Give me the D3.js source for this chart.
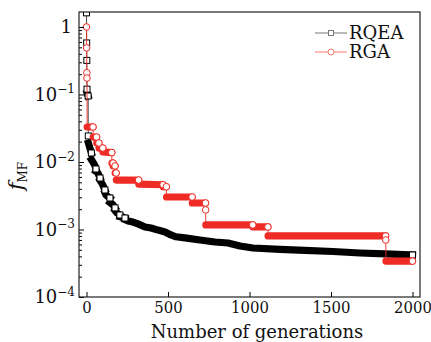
<!DOCTYPE html>
<html>
<head>
<meta charset="utf-8">
<script src="https://cdn.jsdelivr.net/npm/d3@7"></script>
<style>
  body { margin: 0; background: #fff; }
  svg { display: block; font-family: "DejaVu Serif", serif; }
  .cond { font-family: "DejaVu Serif Condensed", "DejaVu Serif", serif; font-stretch: condensed; }
</style>
</head>
<body>
<svg id="chart"></svg>
<script>
//// data (generation, best fitness)
const rqeaGen = [0, 1, 2, 3, 4, 10, 11, 12, 30, 31, 50, 58, 59, 70, 83, 84, 100, 113, 114, 120, 144, 145, 163, 175, 176, 187, 205, 206, 236, 237, 255, 285, 316, 359, 396, 439, 482, 518, 549, 604, 696, 788, 868, 942, 1021, 1187, 1340, 1512, 1678, 1831, 2000];
const rqeaVal = [1.62, 0.58, 0.32, 0.12, 0.105, 0.095, 0.0243, 0.019, 0.0136, 0.0107, 0.00904, 0.00788, 0.0072, 0.00687, 0.00579, 0.0053, 0.00456, 0.00385, 0.0035, 0.00324, 0.00293, 0.0025, 0.00231, 0.00209, 0.0019, 0.00176, 0.00164, 0.00155, 0.00148, 0.0014, 0.00134, 0.00129, 0.00121, 0.00109, 0.00105, 0.00098, 0.00092, 0.00083, 0.00078, 0.00075, 0.000699, 0.000653, 0.000631, 0.00057, 0.000532, 0.000506, 0.000489, 0.000472, 0.000449, 0.000434, 0.000419];

const rgaGen = [0, 1, 2, 3, 4, 40, 41, 62, 63, 76, 77, 100, 101, 155, 156, 163, 164, 175, 176, 182, 183, 320, 321, 470, 471, 490, 491, 648, 649, 730, 731, 732, 1020, 1021, 1113, 1114, 1835, 1836, 1837, 2000];
const rgaVal = [1.0, 0.49, 0.21, 0.175, 0.033, 0.033, 0.0234, 0.0234, 0.0191, 0.0191, 0.0161, 0.0161, 0.0141, 0.0138, 0.00966, 0.00966, 0.00873, 0.00873, 0.00687, 0.00687, 0.0054, 0.0054, 0.0047, 0.0046, 0.0043, 0.0043, 0.00303, 0.00303, 0.00247, 0.00247, 0.00195, 0.00117, 0.00117, 0.00109, 0.00109, 0.000802, 0.000802, 0.000699, 0.00034, 0.00034];

const seriesNames = ["RQEA", "RGA"];
const xTicks = [0, 500, 1000, 1500, 2000];
const yExponents = [-4, -3, -2, -1, 0];

const width = 431;
const height = 342;
const plotLeft = 79, plotRight = 420, plotTop = 12, plotBottom = 297;
const red = "#ee2b25";

const svg = d3.select("#chart").attr("width", width).attr("height", height);

const x = d3.scaleLinear().domain([-46, 2046]).range([plotLeft, plotRight]);
const y = d3.scaleLog().domain([1e-4, 1.667]).range([plotBottom, plotTop]);

svg.append("clipPath").attr("id", "plot")
  .append("rect").attr("x", plotLeft).attr("y", plotTop)
  .attr("width", plotRight - plotLeft).attr("height", plotBottom - plotTop);

const plot = svg.append("g").attr("clip-path", "url(#plot)");
const line = d3.line().x(d => x(d[0])).y(d => y(d[1]));

// markers are drawn every generation in the original, so stretches where the
// value is held over many generations look like a solid band
const drawSeries = (gens, vals, color, lineColor, shape) => {
  const pts = gens.map((g, i) => [g, vals[i]]);
  plot.append("path").attr("d", line(pts))
    .attr("fill", "none").attr("stroke", lineColor).attr("stroke-width", 0.9);

  const chains = [];
  let cur = null;
  pts.forEach((p, i) => {
    if (i > 0 && p[0] - pts[i - 1][0] > 1) {
      if (!cur) { cur = [pts[i - 1]]; chains.push(cur); }
      cur.push(p);
    } else cur = null;
  });
  plot.selectAll(null).data(chains).enter().append("path")
    .attr("d", d => line(d))
    .attr("fill", "none").attr("stroke", color)
    .attr("stroke-width", 7.2)
    .attr("stroke-linecap", shape === "square" ? "square" : "round")
    .attr("stroke-linejoin", "round");

  const ends = pts.filter((p, i) => i === pts.length - 1 || pts[i + 1][0] - p[0] <= 1);
  if (shape === "square") {
    plot.selectAll(null).data(ends).enter().append("rect")
      .attr("x", d => x(d[0]) - 3).attr("y", d => y(d[1]) - 3)
      .attr("width", 6).attr("height", 6)
      .attr("fill", "#fff").attr("stroke", color).attr("stroke-width", 1);
  } else {
    plot.selectAll(null).data(ends).enter().append("circle")
      .attr("cx", d => x(d[0])).attr("cy", d => y(d[1])).attr("r", 3.3)
      .attr("fill", "#fff").attr("stroke", color).attr("stroke-width", 1);
  }
};

drawSeries(rqeaGen, rqeaVal, "#000", "#333", "square");
drawSeries(rgaGen, rgaVal, red, red, "circle");

//// axes
const xAxis = d3.axisBottom(x).tickValues(xTicks).tickFormat(d3.format("d"))
  .tickSize(-5).tickPadding(4);
const gx = svg.append("g").attr("transform", `translate(0,${plotBottom})`).call(xAxis);
gx.select(".domain").remove();
gx.selectAll("text").attr("class", "cond").attr("font-size", 16.5).attr("font-family", null).attr("fill", "#111");

const yAxis = d3.axisLeft(y).tickValues(yExponents.map(e => Math.pow(10, e)))
  .tickSize(-5).tickFormat("");
const gy = svg.append("g").attr("transform", `translate(${plotLeft},0)`).call(yAxis);
gy.select(".domain").remove();

let minor = [];
yExponents.slice(0, -1).forEach(e => {
  for (let k = 2; k <= 9; k++) minor.push(k * Math.pow(10, e));
});
const gm = svg.append("g").attr("transform", `translate(${plotLeft},0)`)
  .call(d3.axisLeft(y).tickValues(minor).tickSize(-3).tickFormat(""));
gm.select(".domain").remove();

const ylab = svg.append("g").attr("font-size", 18).attr("fill", "#111");
yExponents.forEach(e => {
  const t = ylab.append("text")
    .attr("x", e === 0 ? 72 : 75).attr("y", y(Math.pow(10, e)))
    .attr("dy", "0.36em").attr("text-anchor", "end");
  if (e === 0) t.text("1");
  else {
    t.append("tspan").text("10");
    t.append("tspan").attr("font-size", 12).attr("dy", "-0.65em").text("\u2212" + Math.abs(e));
  }
});

svg.append("rect").attr("x", plotLeft).attr("y", plotTop)
  .attr("width", plotRight - plotLeft).attr("height", plotBottom - plotTop)
  .attr("fill", "none").attr("stroke", "#222").attr("stroke-width", 1.2);

//// axis titles
svg.append("text").attr("x", 257).attr("y", 338).attr("text-anchor", "middle")
  .attr("font-size", 18).attr("fill", "#111").text("Number of generations");

const yt = svg.append("text").attr("transform", "translate(23,176) rotate(-90)")
  .attr("text-anchor", "middle").attr("fill", "#111");
yt.append("tspan").attr("font-style", "italic").attr("font-size", 21).text("f");
yt.append("tspan").attr("font-size", 12).attr("dy", 4).text("MF");

//// legend
const legend = svg.append("g");
const legendRows = [
  { name: seriesNames[0], color: "#777", shape: "square" },
  { name: seriesNames[1], color: "#f2786c", shape: "circle" }
];
legendRows.forEach((r, i) => {
  const ly = 33 + i * 19;
  legend.append("line").attr("x1", 315).attr("x2", 347).attr("y1", ly).attr("y2", ly)
    .attr("stroke", r.color).attr("stroke-width", 1);
  if (r.shape === "square") {
    legend.append("rect").attr("x", 328.5).attr("y", ly - 2.5).attr("width", 5).attr("height", 5)
      .attr("fill", "#fff").attr("stroke", r.color);
  } else {
    legend.append("circle").attr("cx", 331).attr("cy", ly).attr("r", 3)
      .attr("fill", "#fff").attr("stroke", r.color);
  }
  legend.append("text").attr("x", 349).attr("y", ly).attr("dy", "0.36em")
    .attr("font-size", 18).attr("fill", "#111").text(r.name);
});
</script>
</body>
</html>
